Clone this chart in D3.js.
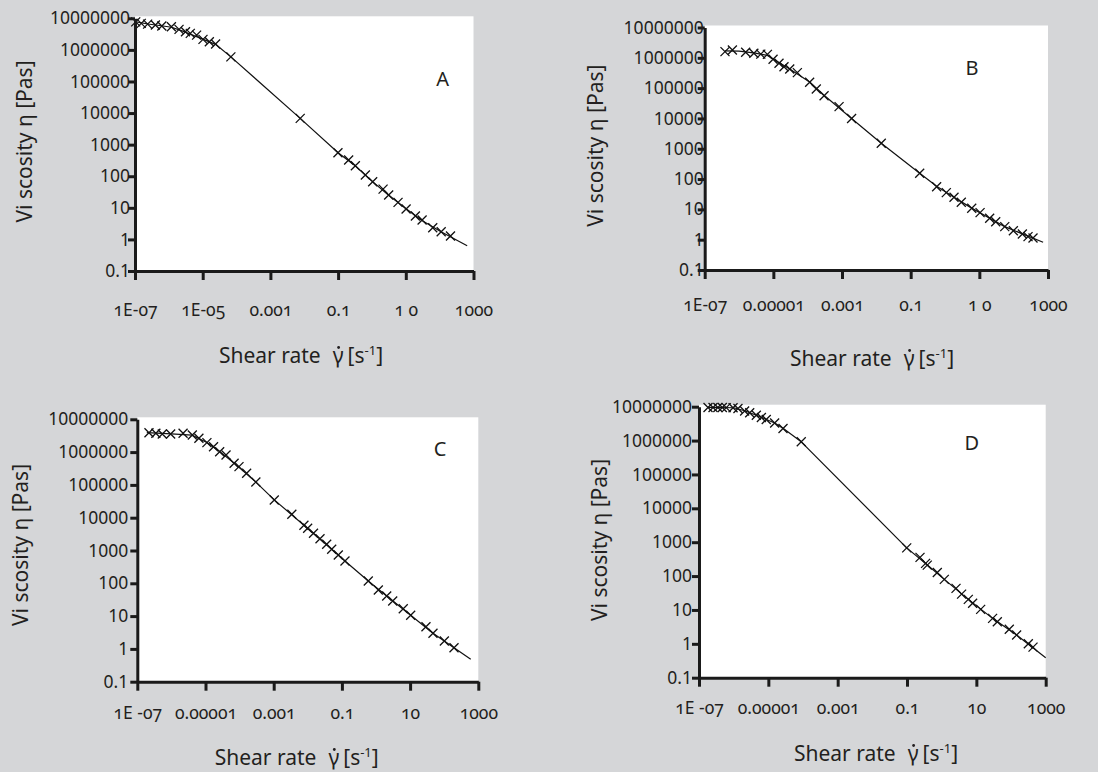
<!DOCTYPE html>
<html>
<head>
<meta charset="utf-8">
<script src="https://cdn.jsdelivr.net/npm/d3@7"></script>
<style>
  body { margin: 0; background: #d5d6d8; }
  svg { display: block; }
  text { fill: #231f20; font-family: "Noto Sans", "Open Sans", sans-serif; }
</style>
</head>
<body>
<svg id="chart" width="1098" height="772"></svg>
<script>
const aRate = [1.05e-7, 1.53e-7, 2.36e-7, 4.0e-7, 6.2e-7, 1.19e-6, 2.0e-6, 3.1e-6, 4.3e-6, 6.6e-6, 1.02e-5, 1.57e-5, 2.4e-5, 6.8e-5, 7.6e-3, 0.099, 0.205, 0.323, 0.638, 1.05, 2.13, 3.12, 5.9, 10.2, 19.2, 30.3, 62.5, 111, 209];
const aVisc = [7.7e6, 6.9e6, 6.55e6, 6.1e6, 5.7e6, 5.4e6, 4.45e6, 3.74e6, 3.33e6, 2.94e6, 2.15e6, 1.8e6, 1.53e6, 6.0e5, 6800, 555, 326, 215, 109, 67, 39, 25.4, 14.9, 9.2, 5.5, 4.1, 2.34, 1.75, 1.28];
// fitted curve
const aFitRate = [1e-7, 2.4e-7, 6e-7, 1.2e-6, 3e-6, 1e-5, 2.4e-5, 6.8e-5, 7.6e-3, 0.1, 0.32, 1, 3, 10, 30, 110, 650];
const aFitVisc = [7.8e6, 6.6e6, 5.8e6, 5.2e6, 3.7e6, 2.2e6, 1.5e6, 6.0e5, 6800, 555, 215, 70, 26, 9.5, 4.0, 1.75, 0.63];

const bRate = [3.9e-7, 6.4e-7, 1.56e-6, 2.7e-6, 4.3e-6, 6.7e-6, 9.8e-6, 1.46e-5, 2.04e-5, 3.0e-5, 5.0e-5, 1.14e-4, 1.78e-4, 3.0e-4, 8.2e-4, 1.9e-3, 0.0139, 0.183, 0.57, 1.09, 1.83, 2.98, 6.0, 10.5, 20, 30, 55, 98, 179, 262, 366];
const bVisc = [1.6e6, 1.82e6, 1.53e6, 1.42e6, 1.32e6, 1.3e6, 9.0e5, 6.6e5, 5.1e5, 4.3e5, 3.25e5, 1.57e5, 9.4e4, 5.6e4, 2.45e4, 1.0e4, 1520, 155, 56, 35.6, 25, 17.1, 10.9, 7.8, 5.1, 3.9, 2.7, 1.98, 1.54, 1.26, 1.14];
const bFitRate = [3.9e-7, 1e-6, 3e-6, 6.7e-6, 1.46e-5, 3e-5, 1.14e-4, 3e-4, 1.9e-3, 0.0139, 0.183, 0.57, 1.83, 6, 20, 55, 180, 720];
const bFitVisc = [1.7e6, 1.65e6, 1.42e6, 1.2e6, 7.0e5, 4.3e5, 1.6e5, 5.8e4, 1.0e4, 1520, 155, 58, 25, 11, 5.1, 2.7, 1.55, 0.82];

const cRate = [2.2e-7, 3.5e-7, 5.4e-7, 9.5e-7, 2.2e-6, 4.1e-6, 6.4e-6, 1.1e-5, 1.72e-5, 2.6e-5, 4.0e-5, 6.9e-5, 9.6e-5, 1.61e-4, 3.0e-4, 1.04e-3, 3.4e-3, 7.7e-3, 9.9e-3, 0.0147, 0.0228, 0.0358, 0.0502, 0.0784, 0.123, 0.594, 1.17, 2.06, 3.09, 6.3, 10.4, 29.2, 46.9, 101, 194];
const cVisc = [3.9e6, 3.74e6, 3.56e6, 3.56e6, 3.74e6, 3.32e6, 2.64e6, 1.94e6, 1.46e6, 1.03e6, 8.2e5, 4.56e5, 3.6e5, 2.26e5, 1.22e5, 3.47e4, 1.27e4, 5900, 4750, 3350, 2290, 1550, 1090, 730, 479, 117, 62.5, 41, 28.8, 16.8, 10.6, 4.75, 3.0, 1.74, 1.09];
const cFitRate = [1.9e-7, 1e-6, 4e-6, 1.1e-5, 2.6e-5, 6.9e-5, 3e-4, 1.04e-3, 7.7e-3, 0.0502, 0.123, 0.594, 2.06, 10.4, 47, 194, 600];
const cFitVisc = [3.9e6, 3.6e6, 3.3e6, 1.95e6, 1.05e6, 4.6e5, 1.22e5, 3.5e4, 5900, 1090, 479, 117, 41, 10.6, 3.0, 1.09, 0.48];

const dRate = [1.82e-7, 2.54e-7, 3.5e-7, 4.7e-7, 6.1e-7, 9.6e-7, 1.33e-6, 2.07e-6, 2.9e-6, 4.5e-6, 6.3e-6, 8.7e-6, 1.52e-5, 2.65e-5, 8.9e-5, 0.098, 0.237, 0.343, 0.384, 0.747, 1.19, 2.59, 3.75, 5.86, 7.8, 13.3, 29.4, 40.2, 89, 145, 315, 431];
const dVisc = [9.5e6, 9.5e6, 9.5e6, 9.5e6, 9.4e6, 9.3e6, 8.85e6, 7.5e6, 6.6e6, 5.6e6, 4.8e6, 4.2e6, 3.3e6, 2.27e6, 9.2e5, 680, 356, 237, 211, 128, 80, 43.4, 29.4, 20.5, 15.7, 10.4, 5.65, 4.5, 2.68, 1.82, 1.0, 0.8];
const dFitRate = [1.8e-7, 1e-6, 2.07e-6, 4.5e-6, 1.52e-5, 2.65e-5, 8.9e-5, 0.098, 0.38, 1.19, 5.86, 29.4, 145, 1000];
const dFitVisc = [9.6e6, 9.3e6, 7.6e6, 5.6e6, 3.3e6, 2.3e6, 9.2e5, 680, 215, 80, 20.5, 5.65, 1.82, 0.39];

// Axis ticks and the labels as printed
const xTickValues = [1e-7, 1e-5, 1e-3, 0.1, 10, 1000];
const yTickValues = [0.1, 1, 10, 100, 1000, 10000, 100000, 1000000, 10000000];
const yTickLabels = ["0.1", "1", "10", "100", "1000", "10000", "100000", "1000000", "10000000"];
const xLabelsA = ["1E-07", "1E-05", "0.001", "0.1", "1 0", "1000"];
const xLabelsB = ["1E-07", "0.00001", "0.001", "0.1", "1 0", "1000"];
const xLabelsCD = ["1E -07", "0.00001", "0.001", "0.1", "10", "1000"];
const panelNames = ["A", "B", "C", "D"];

// Layout of each panel (pixels)
const panels = [
	{name: panelNames[0], rate: aRate, visc: aVisc, fitRate: aFitRate, fitVisc: aFitVisc, xLabels: xLabelsA,
		left: 135, right: 473.5, top: 18.3, bottom: 271, yGap: 5, xLabelOff: 39,
		yTitle: [25, 141.5], xTitle: [301, 363], letter: [442.7, 79]},
	{name: panelNames[1], rate: bRate, visc: bVisc, fitRate: bFitRate, fitVisc: bFitVisc, xLabels: xLabelsB,
		left: 704.7, right: 1048, top: 27.5, bottom: 270, yGap: 1, xLabelOff: 35,
		yTitle: [595.7, 145.7], xTitle: [872, 366], letter: [972, 68]},
	{name: panelNames[2], rate: cRate, visc: cVisc, fitRate: cFitRate, fitVisc: cFitVisc, xLabels: xLabelsCD,
		left: 137.3, right: 478.3, top: 419.3, bottom: 681.7, yGap: 9, xLabelOff: 31,
		yTitle: [21, 545], xTitle: [296.7, 765], letter: [440, 448.7]},
	{name: panelNames[3], rate: dRate, visc: dVisc, fitRate: dFitRate, fitVisc: dFitVisc, xLabels: xLabelsCD,
		left: 699, right: 1045.7, top: 406.7, bottom: 677.7, yGap: 7, xLabelOff: 30,
		yTitle: [600, 540], xTitle: [876, 761], letter: [971.7, 443.3]}
];

const svg = d3.select("#chart");
svg.append("rect").attr("width", 1098).attr("height", 772).attr("fill", "#d5d6d8");

panels.forEach(drawPanel);

function drawPanel(p) {
	const x = d3.scaleLog().domain([1e-7, 1000]).range([p.left, p.right]);
	const y = d3.scaleLog().domain([0.1, 1e7]).range([p.bottom, p.top]);
	const g = svg.append("g");

	// white plot area
	g.append("rect")
		.attr("x", p.left)
		.attr("y", p.top - 2)
		.attr("width", p.right - p.left)
		.attr("height", p.bottom - p.top + 2)
		.attr("fill", "#fff");

	// fitted curve
	const line = d3.line()
		.x((d, i) => x(p.fitRate[i]))
		.y((d, i) => y(p.fitVisc[i]));
	g.append("path")
		.datum(p.fitRate)
		.attr("d", line)
		.attr("fill", "none")
		.attr("stroke", "#111")
		.attr("stroke-width", 1.2)
		.attr("stroke-linejoin", "round");

	// X markers
	const s = 4.5;
	g.selectAll(".mark")
		.data(p.rate)
		.enter()
		.append("path")
			.attr("class", "mark")
			.attr("d", (d, i) => {
				const cx = x(d), cy = y(p.visc[i]);
				return `M${cx - s},${cy - s}L${cx + s},${cy + s}M${cx - s},${cy + s}L${cx + s},${cy - s}`;
			})
			.attr("fill", "none")
			.attr("stroke", "#111")
			.attr("stroke-width", 1.3);

	// axes
	const yAxis = g.append("g")
		.attr("transform", `translate(${p.left},0)`)
		.call(d3.axisLeft(y).tickValues(yTickValues).tickSize(7).tickSizeOuter(0)
			.tickFormat((d, i) => yTickLabels[i]));
	yAxis.selectAll("text")
		.attr("x", -p.yGap)
		.attr("font-size", 17.5)
		.attr("font-family", "'Noto Sans', sans-serif")
		.attr("fill", "#231f20");

	const xAxis = g.append("g")
		.attr("transform", `translate(0,${p.bottom})`)
		.call(d3.axisBottom(x).tickValues(xTickValues).tickSize(9).tickSizeOuter(0)
			.tickFormat((d, i) => p.xLabels[i]));
	xAxis.selectAll("text")
		.attr("y", p.xLabelOff)
		.attr("dy", "0.35em")
		.attr("font-size", 17.5)
		.attr("font-family", "'Noto Sans', sans-serif")
		.attr("fill", "#231f20")
		.style("font-variant-numeric", "oldstyle-nums");

	[yAxis, xAxis].forEach(a => {
		a.select(".domain").attr("stroke", "#1a1a1a").attr("stroke-width", 3);
		a.selectAll(".tick line").attr("stroke", "#1a1a1a").attr("stroke-width", 3);
	});

	// axis titles
	g.append("text")
		.attr("transform", `translate(${p.yTitle[0]},${p.yTitle[1]}) rotate(-90)`)
		.attr("dy", "0.35em")
		.attr("text-anchor", "middle")
		.attr("font-size", 21)
		.text("Vi scosity η [Pas]");

	const xt = g.append("text")
		.attr("x", p.xTitle[0])
		.attr("y", p.xTitle[1])
		.attr("text-anchor", "middle")
		.attr("font-size", 21);
	xt.append("tspan").text("Shear rate");
	xt.append("tspan").attr("dx", 12).text("γ");
	xt.append("tspan").attr("dx", 4).text("[s");
	xt.append("tspan").attr("dy", -8).attr("font-size", 13).text("-1");
	xt.append("tspan").attr("dy", 8).text("]");

	// dot over the gamma (rate symbol)
	const gBox = xt.node().getExtentOfChar(10);
	g.append("circle")
		.attr("cx", gBox.x + gBox.width / 2 + 0.5)
		.attr("cy", p.xTitle[1] - 15.5)
		.attr("r", 1.4)
		.attr("fill", "#231f20");

	// panel letter
	g.append("text")
		.attr("x", p.letter[0])
		.attr("y", p.letter[1])
		.attr("dy", "0.35em")
		.attr("text-anchor", "middle")
		.attr("font-size", 20)
		.text(p.name);
}
</script>
</body>
</html>
